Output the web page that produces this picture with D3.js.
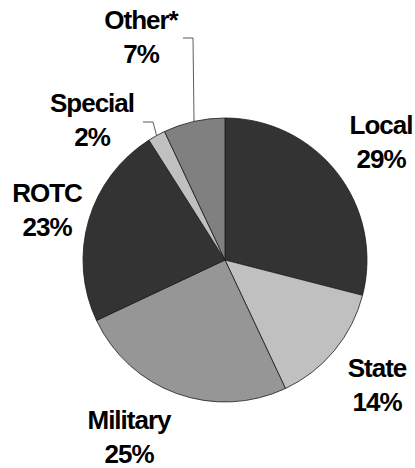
<!DOCTYPE html>
<html>
<head>
<meta charset="utf-8">
<script src="https://cdn.jsdelivr.net/npm/d3@7"></script>
<style>
  html, body { margin: 0; padding: 0; background: #fff; }
  svg { display: block; }
  text { font-family: "Liberation Sans", Arial, sans-serif; font-weight: bold; fill: #000; }
</style>
</head>
<body>
<svg id="chart" width="415" height="468"></svg>
<script>
// Data
const categories = ["Local", "State", "Military", "ROTC", "Special", "Other*"];
const values = [29, 14, 25, 23, 2, 7];
const percentLabels = ["29%", "14%", "25%", "23%", "2%", "7%"];
const colors = ["#333333", "#c0c0c0", "#969696", "#333333", "#c0c0c0", "#808080"];

// Layout (positions are layout, not data)
const cx = 225, cy = 260, r = 142;
const labelPos = [
  {x: 381, y: 134},
  {x: 377, y: 377},
  {x: 129, y: 429},
  {x: 47, y: 202},
  {x: 92, y: 112},
  {x: 141, y: 29}
];
const lineGap = 34;

const svg = d3.select("#chart");
const g = svg.append("g").attr("transform", `translate(${cx},${cy})`);

const pie = d3.pie().sort(null).value(d => d)(values);
const arc = d3.arc().innerRadius(0).outerRadius(r);

g.selectAll("path.slice")
  .data(pie)
  .join("path")
  .attr("class", "slice")
  .attr("d", arc)
  .attr("fill", (d, i) => colors[i])
  .attr("stroke", "#1a1a1a")
  .attr("stroke-width", 0.8);

// Leader lines for small slices (Special, Other*)
function edgePoint(d, frac) {
  const a = d.startAngle + (d.endAngle - d.startAngle) * frac;
  return [cx + r * Math.sin(a), cy - r * Math.cos(a)];
}
const leaders = [
  {i: 4, pts: [[143, 122], [153, 122]], frac: 0.5},
  {i: 5, pts: [[183, 38], [193, 38]], frac: 0.5}
];
leaders.forEach(l => {
  const e = edgePoint(pie[l.i], l.frac);
  svg.append("path")
    .attr("d", d3.line()([...l.pts, e]))
    .attr("fill", "none")
    .attr("stroke", "#333")
    .attr("stroke-width", 0.8);
});

// Labels
const lbl = svg.selectAll("text.lbl")
  .data(categories)
  .join("text")
  .attr("class", "lbl")
  .attr("text-anchor", "middle")
  .attr("font-size", 26)
  .attr("letter-spacing", -1)
  .attr("x", (d, i) => labelPos[i].x)
  .attr("y", (d, i) => labelPos[i].y);
lbl.append("tspan").text(d => d);
lbl.append("tspan")
  .attr("x", (d, i) => labelPos[i].x)
  .attr("dy", lineGap)
  .text((d, i) => percentLabels[i]);
</script>
</body>
</html>
